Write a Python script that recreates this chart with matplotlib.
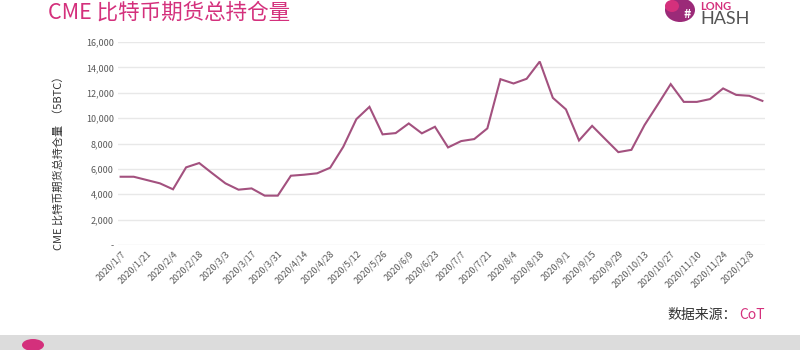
import matplotlib
matplotlib.use("Agg")
import matplotlib.pyplot as plt
from matplotlib.patches import Rectangle, Ellipse
from matplotlib.ticker import FuncFormatter, MultipleLocator

plt.rcParams['font.family'] = ['Noto Sans CJK SC', 'DejaVu Sans']

# ---- data ----
dates = ["2020/1/7", "2020/1/14", "2020/1/21", "2020/1/28", "2020/2/4", "2020/2/11",
         "2020/2/18", "2020/2/25", "2020/3/3", "2020/3/10", "2020/3/17", "2020/3/24",
         "2020/3/31", "2020/4/7", "2020/4/14", "2020/4/21", "2020/4/28", "2020/5/5",
         "2020/5/12", "2020/5/19", "2020/5/26", "2020/6/2", "2020/6/9", "2020/6/16",
         "2020/6/23", "2020/6/30", "2020/7/7", "2020/7/14", "2020/7/21", "2020/7/28",
         "2020/8/4", "2020/8/11", "2020/8/18", "2020/8/25", "2020/9/1", "2020/9/8",
         "2020/9/15", "2020/9/22", "2020/9/29", "2020/10/6", "2020/10/13", "2020/10/20",
         "2020/10/27", "2020/11/3", "2020/11/10", "2020/11/17", "2020/11/24", "2020/12/1",
         "2020/12/8", "2020/12/15"]
open_interest = [5380, 5380, 5120, 4860, 4390, 6120, 6460, 5650, 4860, 4360,
                 4460, 3890, 3890, 5460, 5540, 5650, 6090, 7740, 9920, 10890,
                 8720, 8820, 9580, 8800, 9320, 7690, 8190, 8350, 9190, 13070,
                 12730, 13100, 14460, 11600, 10690, 8240, 9390, 8350, 7320, 7500,
                 9450, 11050, 12680, 11280, 11280, 11500, 12340, 11830, 11760, 11360]
tick_labels = dates[::2]

title = "CME 比特币期货总持仓量"
ylabel = "CME 比特币期货总持仓量  （5BTC）"

# ---- figure ----
fig = plt.figure(figsize=(8, 3.5), dpi=100)
fig.patch.set_facecolor("white")
ax = fig.add_axes([118/800, 1-245/350, (765-118)/800, (245-42)/350])

x = list(range(len(open_interest)))
ax.plot(x, open_interest, color="#a3517f", lw=1.5, solid_joinstyle="miter")

ax.set_xlim(-0.2, len(x) - 1 + 0.2)
ax.set_ylim(0, 16000)
ax.yaxis.set_major_locator(MultipleLocator(2000))
ax.yaxis.set_major_formatter(FuncFormatter(lambda v, p: "-" if v == 0 else f"{int(v):,}"))
ax.grid(axis="y", color="#e8e8e8", lw=1)
ax.set_axisbelow(True)
for s in ax.spines.values():
    s.set_visible(False)
ax.tick_params(axis="both", length=0, labelsize=6.5, labelcolor="#595959")
ax.tick_params(axis="y", pad=3)
ax.set_xticks(x[::2])
ax.set_xticklabels(tick_labels, rotation=45, ha="right", va="top",
                   rotation_mode="anchor")
ax.tick_params(axis="x", pad=3)

# y label
fig.text(58/800, 1-160/350, ylabel, rotation=90, ha="center", va="center",
         fontsize=8, color="#333333")

# title
fig.text(48/800, 1-19/350, title, ha="left", va="baseline", fontsize=15.5,
         color="#d4307c")

# source
fig.text(737/800, 1-315/350, "数据来源：", ha="right", va="center", fontsize=10,
         color="#333333")
fig.text(739/800, 1-315/350, "CoT", ha="left", va="center", fontsize=10,
         color="#d4307c")

# footer band
fig.patches.append(Rectangle((0, 0), 1, 15/350, transform=fig.transFigure,
                             facecolor="#dcdcdc", edgecolor="none", zorder=0))
fig.patches.append(Ellipse((33/800, 5/350), 22/800, 12/350, transform=fig.transFigure,
                           facecolor="#d4307c", edgecolor="none", zorder=1))

# logo top right
fig.patches.append(Ellipse((680/800, 1-10/350), 30/800, 24/350, transform=fig.transFigure,
                           facecolor="#9b2a78", edgecolor="none", zorder=1))
fig.patches.append(Ellipse((672/800, 1-6/350), 14/800, 12/350, transform=fig.transFigure,
                           facecolor="#d4307c", edgecolor="none", zorder=1))
fig.text(687/800, 1-14/350, "#", ha="center", va="center", fontsize=9,
         color="white", fontweight="bold")
fig.text(700/800, 1-24/350, "HASH", ha="left", va="baseline", fontsize=13,
         color="#555555", family=["Lato", "DejaVu Sans"])
fig.text(700/800, 1-10/350, "LONG", ha="left", va="baseline", fontsize=8,
         color="#d4307c", family=["Lato", "DejaVu Sans"], fontweight="bold")

fig.savefig("out.png", dpi=100)
